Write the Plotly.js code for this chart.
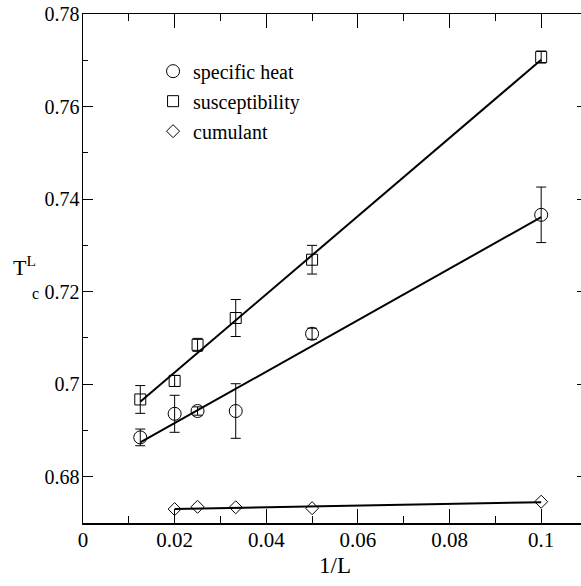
<!DOCTYPE html>
<html>
<head>
<meta charset="utf-8">
<script src="https://cdn.plot.ly/plotly-3.0.1.min.js"></script>
<style>
html,body{margin:0;padding:0;overflow:hidden;background:#fff;}
#plot{width:587px;height:586px;}
</style>
</head>
<body>
<div id="plot"></div>
<script>
// 1/L values
const xL = [0.0125, 0.02, 0.025, 1/30, 0.05, 0.1];
// specific heat
const heatY = [0.6885, 0.6936, 0.6942, 0.6942, 0.7109, 0.7366];
const heatErr = [0.0018, 0.0040, 0.0009, 0.0059, 0.0012, 0.0060];
// susceptibility
const suscY = [0.6967, 0.7007, 0.7085, 0.7143, 0.7269, 0.7707];
const suscErr = [0.0030, 0.0012, 0.0014, 0.0040, 0.0031, 0.0013];
// cumulant
const cumX = [0.02, 0.025, 1/30, 0.05, 0.1];
const cumY = [0.6730, 0.6735, 0.6734, 0.6732, 0.6746];
// linear fits (end points)
const heatFitX = [0.0125, 0.1];
const heatFitY = [0.6874, 0.7361];
const suscFitX = [0.0125, 0.1];
const suscFitY = [0.6962, 0.7701];
const cumFitX = [0.02, 0.1];
const cumFitY = [0.6730, 0.6745];
// labels
const seriesNames = ['specific heat', 'susceptibility', 'cumulant'];
const xTitle = '1/L';

const FONT = 'Liberation Serif';
const errStyle = {type: 'data', visible: true, color: 'black', thickness: 1, width: 5};

const traces = [
  {x: heatFitX, y: heatFitY, mode: 'lines', line: {color: 'black', width: 2}, showlegend: false, hoverinfo: 'skip'},
  {x: suscFitX, y: suscFitY, mode: 'lines', line: {color: 'black', width: 2}, showlegend: false, hoverinfo: 'skip'},
  {x: cumFitX, y: cumFitY, mode: 'lines', line: {color: 'black', width: 2}, showlegend: false, hoverinfo: 'skip'},
  {x: xL, y: heatY, name: seriesNames[0], mode: 'markers', legendgroup: 'a',
   marker: {symbol: 'circle-open', size: 13, color: 'black', line: {width: 1, color: 'black'}},
   error_y: Object.assign({array: heatErr}, errStyle)},
  {x: xL, y: suscY, name: seriesNames[1], mode: 'markers', legendgroup: 'b',
   marker: {symbol: 'square-open', size: 11, color: 'black', line: {width: 1, color: 'black'}},
   error_y: Object.assign({array: suscErr}, errStyle)},
  {x: cumX, y: cumY, name: seriesNames[2], mode: 'markers', legendgroup: 'c',
   marker: {symbol: 'diamond-open', size: 10, color: 'black', line: {width: 1, color: 'black'}}}
];

const layout = {
  width: 587, height: 586,
  margin: {l: 83, r: 0, t: 14, b: 63},
  paper_bgcolor: 'white', plot_bgcolor: 'white',
  font: {family: FONT, color: 'black', size: 20},
  showlegend: true,
  legend: {x: 0.139, y: 0.926, xanchor: 'left', yanchor: 'top',
           bgcolor: 'rgba(0,0,0,0)', borderwidth: 0, tracegroupgap: 1,
           font: {family: FONT, size: 20, color: 'black'}},
  xaxis: {range: [0, 0.11], tickvals: [0, 0.02, 0.04, 0.06, 0.08, 0.1],
          ticktext: ['0', '0.02', '0.04', '0.06', '0.08', '0.1'],
          ticks: 'inside', ticklen: 14, tickwidth: 1, tickcolor: 'black',
          ticklabelstandoff: -3,
          minor: {dtick: 0.01, tick0: 0, ticks: 'inside', ticklen: 7, tickwidth: 1, tickcolor: 'black'},
          showline: true, linecolor: 'black', linewidth: 1.5, mirror: 'ticks',
          showgrid: false, zeroline: false,
          tickfont: {family: FONT, size: 21, color: 'black'},
          title: {text: xTitle, font: {family: FONT, size: 23, color: 'black'}, standoff: 6}},
  yaxis: {range: [0.67, 0.78], tickvals: [0.68, 0.7, 0.72, 0.74, 0.76, 0.78],
          ticktext: ['0.68', '0.7', '0.72', '0.74', '0.76', '0.78'],
          ticks: 'inside', ticklen: 10, tickwidth: 1, tickcolor: 'black',
          ticklabelstandoff: -2,
          minor: {dtick: 0.01, tick0: 0.67, ticks: 'inside', ticklen: 5, tickwidth: 1, tickcolor: 'black'},
          showline: true, linecolor: 'black', linewidth: 1.5, mirror: 'ticks',
          showgrid: false, zeroline: false,
          tickfont: {family: FONT, size: 20, color: 'black'}},
  annotations: [
    {text: 'T<sup>L</sup>', xref: 'paper', yref: 'paper', x: -0.116, y: 0.505,
     xanchor: 'center', yanchor: 'middle', showarrow: false,
     font: {family: FONT, size: 22, color: 'black'}},
    {text: 'c', xref: 'paper', yref: 'paper', x: -0.0952, y: 0.451,
     xanchor: 'center', yanchor: 'middle', showarrow: false,
     font: {family: FONT, size: 16, color: 'black'}}
  ]
};

Plotly.newPlot('plot', traces, layout, {staticPlot: true, displayModeBar: false});
</script>
</body>
</html>
